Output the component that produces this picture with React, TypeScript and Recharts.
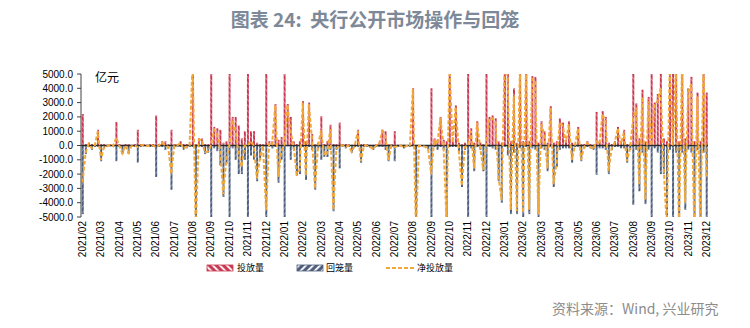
import React from "react";
import { ComposedChart, Bar, Line, XAxis, YAxis, ReferenceLine } from "recharts";

// month labels on the category axis (one every 6 points)
const months = [
  "2021/02", "2021/03", "2021/04", "2021/05", "2021/06", "2021/07", "2021/08", "2021/09",
  "2021/10", "2021/11", "2021/12", "2022/01", "2022/02", "2022/03", "2022/04", "2022/05",
  "2022/06", "2022/07", "2022/08", "2022/09", "2022/10", "2022/11", "2022/12", "2023/01",
  "2023/02", "2023/03", "2023/04", "2023/05", "2023/06", "2023/07", "2023/08", "2023/09",
  "2023/10", "2023/11", "2023/12",
];

// 投放量 (亿元), 6 points per month
const inject = [
  2200, 100, 200, 100, 100, 1100,
  100, 100, 50, 100, 50, 1650,
  100, 50, 100, 100, 50, 100,
  1100, 100, 100, 50, 100, 100,
  2100, 100, 300, 300, 100, 1100,
  100, 100, 300, 100, 100, 100,
  6000, 100, 500, 500, 100, 100,
  6000, 1300, 1200, 1100, 200, 300,
  6000, 2000, 2000, 1400, 500, 1000,
  6000, 1000, 1000, 200, 100, 100,
  5000, 300, 300, 2900, 400, 600,
  6000, 2900, 2000, 300, 100, 300,
  3100, 300, 3000, 800, 100, 200,
  2050, 100, 300, 1450, 100, 100,
  1600, 100, 100, 100, 50, 100,
  1100, 100, 100, 100, 50, 50,
  100, 200, 1100, 1000, 100, 100,
  1000, 50, 50, 50, 30, 30,
  4000, 50, 30, 20, 20, 20,
  4000, 500, 400, 2000, 400, 300,
  5500, 300, 2800, 200, 100, 200,
  6000, 1200, 200, 1700, 200, 100,
  6000, 2000, 2100, 1900, 300, 200,
  6000, 5500, 300, 4000, 200, 5500,
  300, 5500, 300, 4850, 4800, 200,
  1700, 1000, 200, 2750, 200, 300,
  1900, 1600, 400, 1700, 200, 100,
  1300, 100, 100, 300, 100, 50,
  2350, 300, 2400, 2000, 200, 100,
  300, 1300, 300, 1100, 100, 100,
  6000, 2950, 500, 3900, 300, 3400,
  6000, 3000, 3600, 6000, 500, 300,
  6000, 6000, 6000, 300, 6000, 500,
  4000, 4800, 300, 3700, 300, 6000,
  3700,
];

// 回笼量 (亿元)
const withdraw = [
  -4800, -600, -100, -300, -100, -100,
  -1100, -200, -100, -50, -100, -1100,
  -100, -600, -100, -600, -100, -100,
  -1200, -100, -50, -100, -100, -100,
  -2200, -100, -100, -300, -200, -3100,
  -100, -100, -100, -300, -200, -100,
  -100, -6000, -100, -100, -600, -500,
  -6000, -200, -400, -1400, -3600, -1300,
  -6000, -200, -1000, -2000, -2000, -1000,
  -6000, -700, -1000, -2500, -1000, -100,
  -9500, -100, -200, -100, -2600, -1000,
  -6000, -50, -1000, -300, -2100, -2000,
  -100, -2400, -100, -300, -3100, -200,
  -1000, -800, -800, -300, -4600, -300,
  -1600, -100, -200, -100, -500, -100,
  -100, -1200, -100, -100, -150, -300,
  -100, -100, -100, -300, -1100, -100,
  -1100, -100, -50, -200, -50, -100,
  -50, -6000, -50, -50, -100, -300,
  -6000, -100, -300, -100, -300, -5500,
  -100, -100, -100, -500, -2900, -300,
  -6000, -200, -1800, -100, -300, -1800,
  -6000, -100, -200, -300, -2500, -4000,
  -100, -700, -4800, -500, -4800, -200,
  -5000, -100, -4800, -200, -300, -5000,
  -200, -300, -1800, -100, -2900, -1500,
  -300, -200, -200, -200, -1200, -100,
  -100, -1100, -200, -100, -200, -300,
  -2050, -200, -200, -300, -2000, -300,
  -100, -100, -200, -200, -1200, -300,
  -4150, -300, -3200, -500, -4100, -300,
  -6000, -200, -500, -2000, -2000, -6000,
  -300, -6000, -500, -6000, -500, -4500,
  -300, -500, -6000, -300, -6000, -500,
  -6000,
];

const yTicks = [-5000, -4000, -3000, -2000, -1000, 0, 1000, 2000, 3000, 4000, 5000];

const data = inject.map((v, i) => ({
  idx: i,
  inj: v,
  wd: withdraw[i],
  net: v + withdraw[i],
}));

const XTick = (props: any) => {
  const { x, y, payload } = props;
  const label = months[Math.round(payload.value / 6)] ?? "";
  return (
    <text
      x={x}
      y={y}
      transform={`rotate(-90, ${x}, ${y})`}
      textAnchor="end"
      dominantBaseline="central"
      fontSize={10}
      fontFamily="'Liberation Sans', Arial, sans-serif"
      fill="#000"
    >
      {label}
    </text>
  );
};

const cjk = "'Noto Sans CJK SC', sans-serif";

export default function App() {
  return (
    <div style={{ position: "absolute", left: 0, top: 0, width: 750, height: 328, background: "#fff" }}>
      <div
        style={{
          position: "absolute", left: 0, top: 5, width: 750, textAlign: "center",
          fontFamily: cjk, fontWeight: 700, fontSize: 19, color: "#7d8898", whiteSpace: "pre",
        }}
      >
        图表 24:  央行公开市场操作与回笼
      </div>

      <ComposedChart
        width={750}
        height={328}
        data={data}
        stackOffset="sign"
        barCategoryGap="25%"
        margin={{ top: 74, right: 42, bottom: 66, left: 31 }}
      >
        <defs>
          <pattern id="redHatch" width="4" height="4" patternUnits="userSpaceOnUse" patternTransform="rotate(-45)">
            <rect width="4" height="4" fill="#c93a52" />
            <rect width="1" height="4" fill="#e48797" />
          </pattern>
          <pattern id="blueHatch" width="4" height="4" patternUnits="userSpaceOnUse" patternTransform="rotate(45)">
            <rect width="4" height="4" fill="#4e5e7b" />
            <rect width="1" height="4" fill="#8a98b0" />
          </pattern>
        </defs>
        <XAxis
          dataKey="idx"
          type="category"
          interval={5}
          axisLine={false}
          tickLine={false}
          tickSize={0}
          tickMargin={4}
          height={45}
          tick={<XTick />}
        />
        <YAxis
          domain={[-5000, 5000]}
          ticks={yTicks}
          interval={0}
          allowDataOverflow
          width={50}
          tickSize={4}
          tickMargin={4}
          stroke="#404040"
          tick={{ fontSize: 10, fill: "#000", fontFamily: "'Liberation Sans', Arial, sans-serif" }}
          tickFormatter={(v: number) => v.toFixed(1)}
        />
        <Bar dataKey="inj" stackId="a" fill="url(#redHatch)" isAnimationActive={false} />
        <Bar dataKey="wd" stackId="a" fill="url(#blueHatch)" isAnimationActive={false} />
        <ReferenceLine y={0} stroke="#2a2a2a" strokeWidth={1.5} />
        <Line
          dataKey="net"
          type="linear"
          stroke="#f2a838"
          strokeWidth={2}
          strokeDasharray="4 2"
          dot={false}
          isAnimationActive={false}
        />
      </ComposedChart>

      <div style={{ position: "absolute", left: 95, top: 68, fontSize: 12, fontFamily: cjk, color: "#000" }}>
        亿元
      </div>

      <svg width={750} height={20} style={{ position: "absolute", left: 0, top: 259 }}>
        <defs>
          <pattern id="lgRed" width="5" height="5" patternUnits="userSpaceOnUse" patternTransform="rotate(-45)">
            <rect width="5" height="5" fill="#c93a52" />
            <rect width="1.8" height="5" fill="#fff" />
          </pattern>
          <pattern id="lgBlue" width="5" height="5" patternUnits="userSpaceOnUse" patternTransform="rotate(45)">
            <rect width="5" height="5" fill="#4e5e7b" />
            <rect width="1.8" height="5" fill="#fff" />
          </pattern>
        </defs>
        <rect x={207} y={6} width={26} height={6} fill="url(#lgRed)" stroke="#c93a52" strokeWidth={0.8} />
        <text x={237} y={12} fontSize={9} fontFamily={cjk} fill="#000">投放量</text>
        <rect x={297} y={6} width={26} height={6} fill="url(#lgBlue)" stroke="#4e5e7b" strokeWidth={0.8} />
        <text x={326} y={12} fontSize={9} fontFamily={cjk} fill="#000">回笼量</text>
        <line x1={386} y1={9} x2={414} y2={9} stroke="#f2a838" strokeWidth={2} strokeDasharray="4 2" />
        <text x={417} y={12} fontSize={9} fontFamily={cjk} fill="#000">净投放量</text>
      </svg>

      <div
        style={{
          position: "absolute", left: 552, top: 298, fontSize: 14,
          fontFamily: cjk, color: "#8c8c8c", whiteSpace: "nowrap",
        }}
      >
        资料来源：Wind, 兴业研究
      </div>
    </div>
  );
}
